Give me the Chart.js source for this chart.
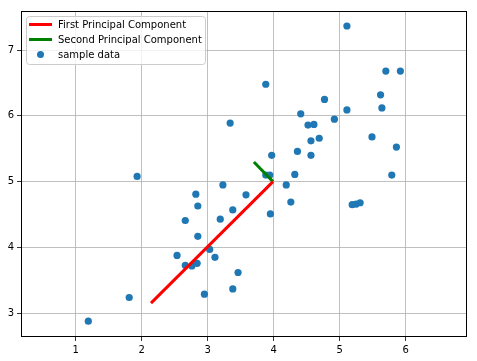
<!DOCTYPE html>
<html>
<head>
<meta charset="utf-8">
<script src="https://cdn.jsdelivr.net/npm/chart.js@4/dist/chart.umd.min.js"></script>
<style>
html,body{margin:0;padding:0;background:#fff;}
#wrap{width:477px;height:361px;position:relative;}
</style>
</head>
<body>
<div id="wrap"><canvas id="c" width="477" height="361"></canvas></div>
<script>
// ---- data ----
const sampleX = [1.19,1.81,1.93,2.535,2.66,2.66,2.76,2.84,2.82,2.85,2.85,2.95,3.03,3.11,3.19,3.23,3.38,3.38,3.46,3.34,3.58,3.95,4.19,4.26,5.19,5.25,5.31,5.11,5.70,5.92,3.88,4.77,5.62,5.11,5.64,4.41,4.92,4.52,4.61,4.69,4.565,5.49,4.36,5.86,3.97,4.565,4.32,5.79,3.88,3.94];
const sampleY = [2.88,3.24,5.08,3.88,4.41,3.73,3.72,3.76,4.81,4.63,4.17,3.29,3.97,3.85,4.43,4.95,4.57,3.37,3.62,5.89,4.80,4.51,4.95,4.69,4.65,4.66,4.68,7.365,6.68,6.68,6.48,6.25,6.32,6.09,6.12,6.03,5.95,5.86,5.87,5.66,5.62,5.68,5.46,5.525,5.40,5.40,5.11,5.10,5.10,5.10];
const pc1X = [2.14, 3.99];
const pc1Y = [3.155, 5.00];
const pc2X = [3.70, 3.99];
const pc2Y = [5.30, 5.00];
const xTicks = [1,2,3,4,5,6];
const yTicks = [3,4,5,6,7];
const seriesLabels = ['First Principal Component','Second Principal Component','sample data'];

const toPts = (xs, ys) => xs.map((x,i)=>({x:x, y:ys[i]}));

const FONT = 'DejaVu Sans';

const framePlugin = {
  id: 'frame',
  afterDatasetsDraw(chart) {
    const {ctx, chartArea:a} = chart;
    ctx.save();
    ctx.strokeStyle = '#000';
    ctx.lineWidth = 1;
    ctx.strokeRect(Math.round(a.left)+0.5, Math.round(a.top)+0.5, Math.round(a.right-a.left)-1, Math.round(a.bottom-a.top)-1);
    ctx.restore();
  },
  afterDraw(chart) {
    // matplotlib-style legend inside plot area, upper left
    const {ctx, chartArea:a} = chart;
    const ds = chart.data.datasets;
    const x0 = a.left + 5, y0 = a.top + 5;
    const w = 179, h = 48;
    ctx.save();
    ctx.fillStyle = 'rgba(255,255,255,0.8)';
    ctx.strokeStyle = '#cccccc';
    ctx.lineWidth = 1;
    const r = 3;
    ctx.beginPath();
    ctx.moveTo(x0+r+0.5, y0+0.5);
    ctx.arcTo(x0+w+0.5, y0+0.5, x0+w+0.5, y0+h+0.5, r);
    ctx.arcTo(x0+w+0.5, y0+h+0.5, x0+0.5, y0+h+0.5, r);
    ctx.arcTo(x0+0.5, y0+h+0.5, x0+0.5, y0+0.5, r);
    ctx.arcTo(x0+0.5, y0+0.5, x0+w+0.5, y0+0.5, r);
    ctx.closePath();
    ctx.fill();
    ctx.stroke();
    ctx.font = '10px "' + FONT + '"';
    ctx.textBaseline = 'middle';
    ctx.fillStyle = '#000';
    ds.forEach((d, i) => {
      const cy = y0 + 8.5 + i*15;
      if (d.type === 'line') {
        ctx.strokeStyle = d.borderColor;
        ctx.lineWidth = 3;
        ctx.beginPath();
        ctx.moveTo(x0+3, cy);
        ctx.lineTo(x0+26, cy);
        ctx.stroke();
      } else {
        ctx.fillStyle = d.backgroundColor;
        ctx.beginPath();
        ctx.arc(x0+14.5, cy, 3.5, 0, Math.PI*2);
        ctx.fill();
      }
      ctx.fillStyle = '#000';
      ctx.fillText(d.label, x0+32, cy+0.5);
    });
    ctx.restore();
  }
};

new Chart(document.getElementById('c'), {
  type: 'scatter',
  data: {
    datasets: [
      { type:'line', label: seriesLabels[0], data: toPts(pc1X, pc1Y), borderColor:'#ff0000', backgroundColor:'#ff0000', borderWidth:3, pointRadius:0, fill:false },
      { type:'line', label: seriesLabels[1], data: toPts(pc2X, pc2Y), borderColor:'#008000', backgroundColor:'#008000', borderWidth:3, pointRadius:0, fill:false },
      { label: seriesLabels[2], data: toPts(sampleX, sampleY), backgroundColor:'#1f77b4', borderColor:'#1f77b4', borderWidth:0, pointRadius:3.6, pointHoverRadius:3.6 }
    ]
  },
  options: {
    responsive: false,
    animation: false,
    devicePixelRatio: 1,
    layout: { padding: { left: 0, right: 10, top: 11, bottom: 0 } },
    plugins: { legend: { display: false }, tooltip: { enabled: false } },
    scales: {
      x: {
        type: 'linear', min: 0.17, max: 6.93,
        afterBuildTicks: s => { s.ticks = xTicks.map(v => ({value: v})); },
        afterFit: s => { s.height = 24; },
        grid: { color: '#b0b0b0', lineWidth: 0.8, tickColor: '#000', tickLength: 4, drawOnChartArea: true },
        border: { display: false },
        ticks: { color: '#000', font: { family: FONT, size: 10 }, padding: 3, maxRotation: 0 }
      },
      y: {
        type: 'linear', min: 2.64, max: 7.593,
        afterBuildTicks: s => { s.ticks = yTicks.map(v => ({value: v})); },
        afterFit: s => { s.width = 21; },
        grid: { color: '#b0b0b0', lineWidth: 0.8, tickColor: '#000', tickLength: 4 },
        border: { display: false },
        ticks: { color: '#000', font: { family: FONT, size: 10 }, padding: 3 }
      }
    }
  },
  plugins: [framePlugin]
});
</script>
</body>
</html>
